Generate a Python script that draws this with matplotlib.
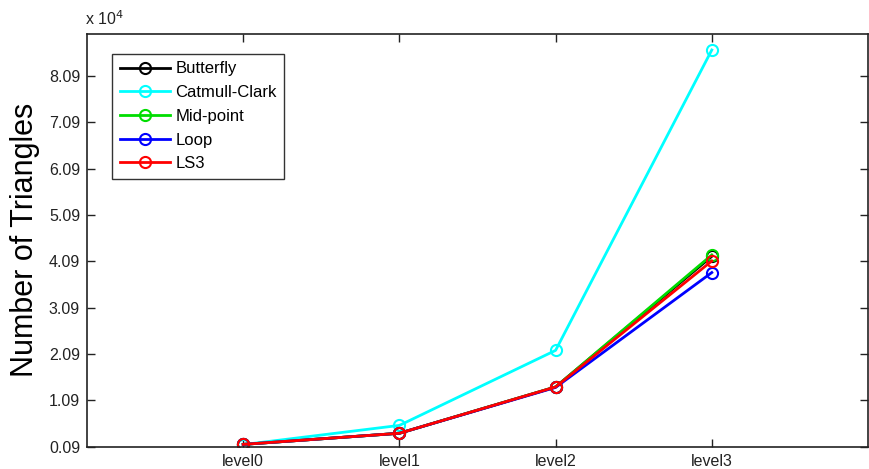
import matplotlib
matplotlib.use("Agg")
import matplotlib.pyplot as plt

plt.rcParams['font.family'] = ['Liberation Sans', 'DejaVu Sans']

levels = ["level0", "level1", "level2", "level3"]
series_names = ["Butterfly", "Catmull-Clark", "Mid-point", "Loop", "LS3"]
series_colors = ["black", "cyan", "#00dd00", "blue", "red"]

butterfly = [1400, 3800, 13800, 42000]
catmull_clark = [1350, 5500, 21700, 86550]
mid_point = [1400, 3800, 13800, 42300]
loop = [1400, 3800, 13700, 38500]
ls3 = [1400, 3800, 13800, 41000]
series_values = [butterfly, catmull_clark, mid_point, loop, ls3]

y_ticks = [900 + 10000 * k for k in range(9)]
y_limits = (900, 90000)

fig = plt.figure(figsize=(8.69, 4.69), dpi=100)
ax = fig.add_axes([87 / 869, 1 - 446.7 / 469, (868 - 87) / 869, (446.7 - 34) / 469])

x = list(range(len(levels)))
for name, color, vals in zip(series_names, series_colors, series_values):
    ax.plot(x, vals, color=color, lw=2, marker='o', markersize=8,
            markerfacecolor='none', markeredgecolor=color, markeredgewidth=1.5,
            label=name)

ax.set_xlim(-1, 4)
ax.set_ylim(*y_limits)
ax.set_xticks(x)
ax.set_xticklabels(levels)
ax.set_yticks(y_ticks)
ax.set_yticklabels([f"{v / 1e4:.2f}" for v in y_ticks])
ax.tick_params(direction='in', length=6, width=1, top=True, right=True,
               labelsize=11.5, colors='#222222', pad=5)
for s in ax.spines.values():
    s.set_linewidth(1.2)
    s.set_color('#222222')

ax.set_ylabel("Number of Triangles", fontsize=22, labelpad=6)
fig.text(85 / 869, 1 - 19 / 469, r"x 10$^{4}$", fontsize=11.5, color='#222222',
         ha='left', va='center')

# legend box anchored near the upper-left corner of the axes
leg = ax.legend(loc='upper left',
                bbox_to_anchor=((112 - 87) / 781, (446.7 - 54) / 412.7),
                frameon=True, fancybox=False, fontsize=12, handlelength=3.0,
                borderpad=0.45, labelspacing=0.52, handletextpad=0.35,
                borderaxespad=0)
leg.get_frame().set_edgecolor('black')
leg.get_frame().set_linewidth(1.0)

fig.savefig("out.png", dpi=100)
